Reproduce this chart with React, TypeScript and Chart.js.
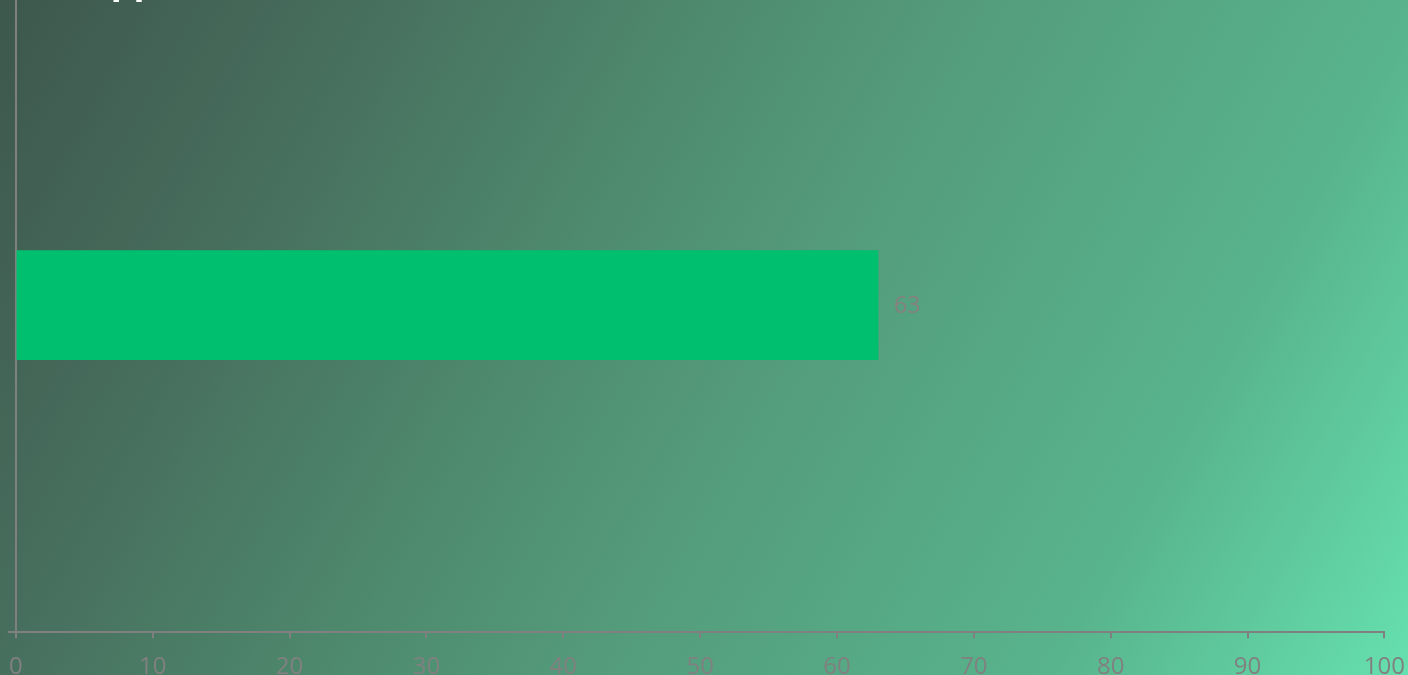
import React, { useEffect, useRef } from "react";
import { Chart, registerables } from "chart.js";

Chart.register(...registerables);

const categories: string[] = [""];
const values: number[] = [63];
const xTicksMin = 0;
const xTicksMax = 100;
const xStep = 10;
const titleText = "Approval";

const OFF = 60;
const OFFX = 6;
const GRID = "#808080";

const bgPlugin = {
  id: "bgGradient",
  beforeDraw(chart: any) {
    const { ctx, width, height } = chart;
    ctx.save();
    const g = ctx.createLinearGradient(OFFX, OFF, OFFX + 1363, OFF + 756);
    g.addColorStop(0, "#3d574c");
    g.addColorStop(0.2, "#476e5d");
    g.addColorStop(0.4, "#4e8a6e");
    g.addColorStop(0.55, "#549c7c");
    g.addColorStop(0.8, "#58b48c");
    g.addColorStop(1, "#66e0ae");
    ctx.fillStyle = g;
    ctx.fillRect(0, 0, width, height);
    ctx.restore();
  },
};

const titlePlugin = {
  id: "clippedTitle",
  afterDraw(chart: any) {
    const { ctx } = chart;
    ctx.save();
    ctx.font = "bold 36px 'Open Sans'";
    ctx.fillStyle = "#ffffff";
    ctx.textAlign = "left";
    ctx.textBaseline = "alphabetic";
    ctx.fillText(titleText, OFFX + 86, OFF - 7);
    ctx.restore();
  },
};

const labelPlugin = {
  id: "valueLabels",
  afterDatasetsDraw(chart: any) {
    const { ctx } = chart;
    const meta = chart.getDatasetMeta(0);
    ctx.save();
    ctx.font = "23px 'Open Sans'";
    ctx.fillStyle = "#86807f";
    ctx.textAlign = "left";
    ctx.textBaseline = "middle";
    meta.data.forEach((el: any, i: number) => {
      ctx.fillText(String(values[i]), el.x + 16, el.y + 1);
    });
    ctx.restore();
  },
};

export default function App() {
  const ref = useRef<HTMLCanvasElement>(null);
  useEffect(() => {
    if (!ref.current) return;
    const chart = new Chart(ref.current, {
      type: "bar",
      data: {
        labels: categories,
        datasets: [
          {
            data: values,
            backgroundColor: "#00bf6f",
            borderWidth: 0,
            barThickness: 109,
          },
        ],
      },
      options: {
        indexAxis: "y",
        animation: false,
        responsive: true,
        maintainAspectRatio: false,
        layout: { padding: { top: 38, left: 0, right: 10, bottom: 28 } },
        plugins: {
          legend: { display: false },
          tooltip: { enabled: false },
          title: { display: false },
        },
        scales: {
          x: {
            type: "linear",
            min: xTicksMin,
            max: xTicksMax,
            ticks: {
              stepSize: xStep,
              color: GRID,
              padding: 15,
              font: { family: "'Open Sans'", size: 24 },
              maxRotation: 0,
            },
            grid: {
              drawOnChartArea: false,
              drawTicks: true,
              tickLength: 6,
              color: GRID,
              lineWidth: 2,
            },
            border: { display: true, color: GRID, width: 2 },
          },
          y: {
            type: "category",
            ticks: { display: false },
            grid: {
              drawOnChartArea: false,
              drawTicks: true,
              tickLength: 8,
              color: GRID,
              lineWidth: 2,
              offset: true,
            },
            border: { display: true, color: GRID, width: 2 },
          },
        },
      },
      plugins: [bgPlugin, titlePlugin, labelPlugin],
    });
    return () => chart.destroy();
  }, []);

  return (
    <div
      style={{
        position: "fixed",
        left: -OFFX,
        top: -OFF,
        width: 1426,
        height: 785,
        background: "#4e8a6e",
      }}
    >
      <canvas ref={ref} />
    </div>
  );
}
